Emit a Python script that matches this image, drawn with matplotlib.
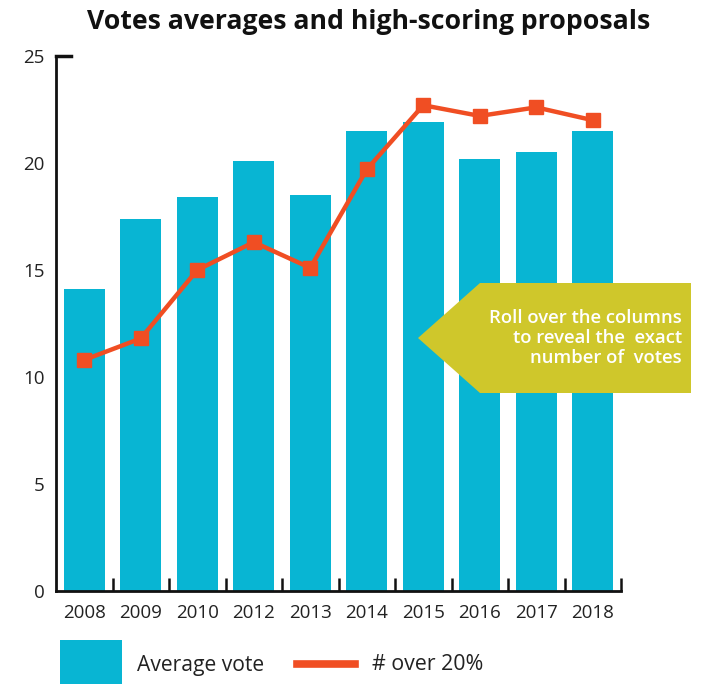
import numpy as np
import matplotlib
matplotlib.use('Agg')
import matplotlib.pyplot as plt
from matplotlib.patches import Polygon, Rectangle
from matplotlib.lines import Line2D

years = ['2008', '2009', '2010', '2012', '2013', '2014', '2015', '2016', '2017', '2018']
avg_vote = [14.1, 17.4, 18.4, 20.1, 18.5, 21.5, 21.9, 20.2, 20.5, 21.5]
over_20 = [10.8, 11.8, 15.0, 16.3, 15.1, 19.7, 22.7, 22.2, 22.6, 22.0]
y_ticks = [0, 5, 10, 15, 20, 25]

teal = '#08B5D3'
orange = '#F04E23'
olive = '#CFC72B'

plt.rcParams['font.family'] = ['Open Sans', 'DejaVu Sans']

W, H = 709, 684
fig = plt.figure(figsize=(W / 100, H / 100), dpi=100)
ax = fig.add_axes([56 / W, (H - 591) / H, (621 - 56) / W, (591 - 56) / H])

x = np.arange(len(years))
ax.bar(x, avg_vote, width=0.73, color=teal, zorder=2)
ax.plot(x, over_20, color=orange, lw=3.2, marker='s', markersize=9.5, zorder=3)

ax.set_xlim(-0.5, len(years) - 0.5)
ax.set_ylim(0, 25)

for s in ['top', 'right']:
    ax.spines[s].set_visible(False)
for s in ['left', 'bottom']:
    ax.spines[s].set_linewidth(2)
    ax.spines[s].set_color('#111111')

ax.set_yticks(y_ticks)
ax.tick_params(axis='y', length=0, pad=8, labelsize=13.5, labelcolor='#222222')
ax.set_xticks(x)
ax.set_xticklabels(years)
ax.tick_params(axis='x', which='major', length=0, pad=9, labelsize=13.5, labelcolor='#222222')
ax.set_xticks(x + 0.5, minor=True)
ax.tick_params(axis='x', which='minor', direction='in', length=9.5, width=1.8, color='#111111')
# top cap of the y axis
ax.plot([0, 0.026], [1, 1], transform=ax.transAxes, color='#111111', lw=2.5, clip_on=False)

fig.text(369 / W, 1 - 22 / H, 'Votes averages and high-scoring proposals',
         ha='center', va='center', fontsize=19.2, fontweight='bold', color='#111111')

# callout box
pts = [(480, 283), (691, 283), (691, 393), (480, 393), (418, 338)]
poly = Polygon([(px / W, 1 - py / H) for px, py in pts], closed=True,
               transform=fig.transFigure, facecolor=olive, edgecolor='none', zorder=5)
fig.patches.append(poly)
fig.text(682 / W, 1 - 338 / H, 'Roll over the columns\nto reveal the  exact\nnumber of  votes',
         ha='right', va='center', fontsize=13.3, fontweight='semibold', color='white',
         linespacing=1.15, zorder=6)

# legend
fig.patches.append(Rectangle((60 / W, 0), 62 / W, (684 - 640) / H,
                             transform=fig.transFigure, facecolor=teal, edgecolor='none'))
fig.text(137 / W, 1 - 666 / H, 'Average vote', ha='left', va='center', fontsize=15.2, color='#222222')
fig.lines.append(Line2D([297 / W, 355 / W], [1 - 664 / H, 1 - 664 / H],
                        transform=fig.transFigure, color=orange, lw=5.5))
fig.text(372 / W, 1 - 664 / H, '# over 20%', ha='left', va='center', fontsize=15.4, color='#222222')

fig.savefig('out.png', dpi=100)
